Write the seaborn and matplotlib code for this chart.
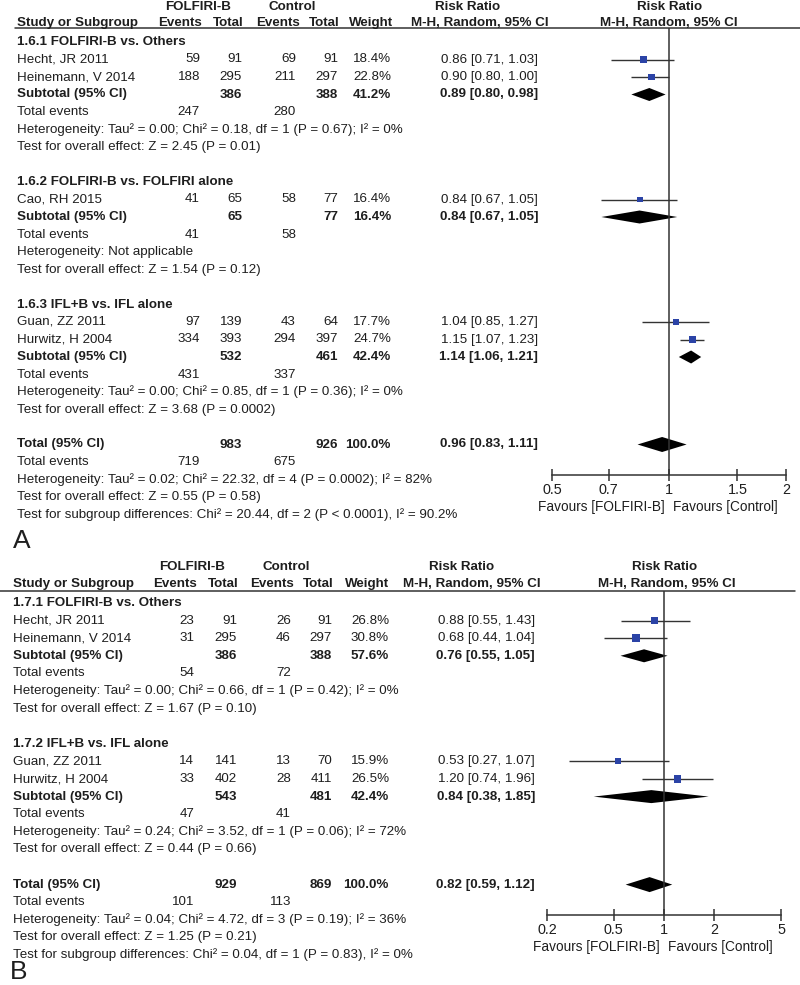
import matplotlib.pyplot as plt
import matplotlib.ticker as mticker
import seaborn as sns

# Estilo geral
sns.set_theme(style="white")
plt.rcParams['font.family'] = ['Liberation Sans', 'DejaVu Sans']

FS = 9.6
TXT = '#1e1e1e'
BLUE = '#2b43a6'

# ---------------- Painel A (1.6) ----------------
a_groups = ["1.6.1 FOLFIRI-B vs. Others", "1.6.2 FOLFIRI-B vs. FOLFIRI alone", "1.6.3 IFL+B vs. IFL alone"]
a_studies = ["Hecht, JR 2011", "Heinemann, V 2014", "Cao, RH 2015", "Guan, ZZ 2011", "Hurwitz, H 2004"]
a_study_group = [0, 0, 1, 2, 2]
a_exp_events = [59, 188, 41, 97, 334]
a_exp_total = [91, 295, 65, 139, 393]
a_ctl_events = [69, 211, 58, 43, 294]
a_ctl_total = [91, 297, 77, 64, 397]
a_weight = [18.4, 22.8, 16.4, 17.7, 24.7]
a_rr = [0.86, 0.90, 0.84, 1.04, 1.15]
a_lo = [0.71, 0.80, 0.67, 0.85, 1.07]
a_hi = [1.03, 1.00, 1.05, 1.27, 1.23]

a_sub_exp_total = [386, 65, 532]
a_sub_ctl_total = [388, 77, 461]
a_sub_weight = [41.2, 16.4, 42.4]
a_sub_rr = [0.89, 0.84, 1.14]
a_sub_lo = [0.80, 0.67, 1.06]
a_sub_hi = [0.98, 1.05, 1.21]
a_sub_exp_events = [247, 41, 431]
a_sub_ctl_events = [280, 58, 337]
a_sub_tau2 = [0.00, None, 0.00]
a_sub_chi2 = [0.18, None, 0.85]
a_sub_df = [1, None, 1]
a_sub_het_p = ["0.67", None, "0.36"]
a_sub_i2 = [0, None, 0]
a_sub_z = [2.45, 1.54, 3.68]
a_sub_z_p = ["0.01", "0.12", "0.0002"]

a_tot = dict(exp_total=983, ctl_total=926, weight=100.0, rr=0.96, lo=0.83, hi=1.11,
             exp_events=719, ctl_events=675, tau2=0.02, chi2=22.32, df=4, het_p="0.0002",
             i2=82, z=0.55, z_p="0.58", sg_chi2=20.44, sg_df=2, sg_p="< 0.0001", sg_i2="90.2")
a_ticks = [0.5, 0.7, 1, 1.5, 2]
a_tick_labels = ["0.5", "0.7", "1", "1.5", "2"]

# ---------------- Painel B (1.7) ----------------
b_groups = ["1.7.1 FOLFIRI-B vs. Others", "1.7.2 IFL+B vs. IFL alone"]
b_studies = ["Hecht, JR 2011", "Heinemann, V 2014", "Guan, ZZ 2011", "Hurwitz, H 2004"]
b_study_group = [0, 0, 1, 1]
b_exp_events = [23, 31, 14, 33]
b_exp_total = [91, 295, 141, 402]
b_ctl_events = [26, 46, 13, 28]
b_ctl_total = [91, 297, 70, 411]
b_weight = [26.8, 30.8, 15.9, 26.5]
b_rr = [0.88, 0.68, 0.53, 1.20]
b_lo = [0.55, 0.44, 0.27, 0.74]
b_hi = [1.43, 1.04, 1.07, 1.96]

b_sub_exp_total = [386, 543]
b_sub_ctl_total = [388, 481]
b_sub_weight = [57.6, 42.4]
b_sub_rr = [0.76, 0.84]
b_sub_lo = [0.55, 0.38]
b_sub_hi = [1.05, 1.85]
b_sub_exp_events = [54, 47]
b_sub_ctl_events = [72, 41]
b_sub_tau2 = [0.00, 0.24]
b_sub_chi2 = [0.66, 3.52]
b_sub_df = [1, 1]
b_sub_het_p = ["0.42", "0.06"]
b_sub_i2 = [0, 72]
b_sub_z = [1.67, 0.44]
b_sub_z_p = ["0.10", "0.66"]

b_tot = dict(exp_total=929, ctl_total=869, weight=100.0, rr=0.82, lo=0.59, hi=1.12,
             exp_events=101, ctl_events=113, tau2=0.04, chi2=4.72, df=3, het_p="0.19",
             i2=36, z=1.25, z_p="0.21", sg_chi2=0.04, sg_df=1, sg_p="= 0.83", sg_i2="0")
b_ticks = [0.2, 0.5, 1, 2, 5]
b_tick_labels = ["0.2", "0.5", "1", "2", "5"]


def rr_txt(rr, lo, hi):
    return f"{rr:.2f} [{lo:.2f}, {hi:.2f}]"


def het_txt(tau2, chi2, df, p, i2):
    if tau2 is None:
        return "Heterogeneity: Not applicable"
    return f"Heterogeneity: Tau\u00b2 = {tau2:.2f}; Chi\u00b2 = {chi2:.2f}, df = {df} (P = {p}); I\u00b2 = {i2}%"


def draw_panel(fig, tx, d, lay):
    """Desenha um painel completo (tabela + forest plot)."""
    cols = lay['cols']  # bordas direitas: ev exp, tot exp, ev ctl, tot ctl, peso
    lx = lay['left']

    def put(x, y, s, ha='left', bold=False):
        tx.text(x, y, s, ha=ha, va='center', fontsize=FS, color=TXT,
                fontweight='bold' if bold else 'normal')

    # Cabeçalho
    h1, h2 = lay['head_y']
    hc = lay['head_x']
    for key, label, yy in [('exp', 'FOLFIRI-B', h1), ('ctl', 'Control', h1),
                           ('rr1', 'Risk Ratio', h1), ('rr2', 'Risk Ratio', h1),
                           ('ev1', 'Events', h2), ('to1', 'Total', h2), ('ev2', 'Events', h2),
                           ('to2', 'Total', h2), ('w', 'Weight', h2),
                           ('mh1', 'M-H, Random, 95% CI', h2), ('mh2', 'M-H, Random, 95% CI', h2)]:
        put(hc[key], yy, label, ha='center', bold=True)
    put(lx, h2, 'Study or Subgroup', bold=True)
    tx.plot(lay['rule_x'], [lay['rule_y']] * 2, color='#333333', lw=1.1)

    # Eixo do forest plot
    x0, x1 = lay['forest_x']
    top, bot = lay['rule_y'], lay['axis_y']
    ax = fig.add_axes([x0 / 800, 1 - bot / 985, (x1 - x0) / 800, (bot - top) / 985])
    ax.patch.set_alpha(0)
    ax.set_xscale('log')
    ax.set_xlim(d['ticks'][0], d['ticks'][-1])
    ax.set_ylim(bot, top)
    ax.axvline(1, color='#333333', lw=1.1)

    step = lay['step']
    y = lay['first']
    sq_x, sq_y, sq_w = [], [], []

    def diamond(yy, est, lo, hi, h=6.5):
        ax.fill([lo, est, hi, est], [yy, yy - h, yy, yy + h], color='black', lw=0)

    for g, gname in enumerate(d['groups']):
        put(lx, y, gname, bold=True)
        y += step
        for i, sname in enumerate(d['studies']):
            if d['study_group'][i] != g:
                continue
            put(lx, y, sname)
            put(cols[0], y, str(d['exp_events'][i]), ha='right')
            put(cols[1], y, str(d['exp_total'][i]), ha='right')
            put(cols[2], y, str(d['ctl_events'][i]), ha='right')
            put(cols[3], y, str(d['ctl_total'][i]), ha='right')
            put(cols[4], y, f"{d['weight'][i]:.1f}%", ha='right')
            put(lay['rr_right'], y, rr_txt(d['rr'][i], d['lo'][i], d['hi'][i]), ha='right')
            ax.hlines(y, d['lo'][i], d['hi'][i], color='#333333', lw=1.0)
            sq_x.append(d['rr'][i])
            sq_y.append(y)
            sq_w.append(d['weight'][i])
            y += step
        # Subtotal
        put(lx, y, 'Subtotal (95% CI)', bold=True)
        put(cols[1], y, str(d['sub_exp_total'][g]), ha='right', bold=True)
        put(cols[3], y, str(d['sub_ctl_total'][g]), ha='right', bold=True)
        put(cols[4], y, f"{d['sub_weight'][g]:.1f}%", ha='right', bold=True)
        put(lay['rr_right'], y, rr_txt(d['sub_rr'][g], d['sub_lo'][g], d['sub_hi'][g]),
            ha='right', bold=True)
        diamond(y, d['sub_rr'][g], d['sub_lo'][g], d['sub_hi'][g])
        y += step
        put(lx, y, 'Total events')
        put(cols[0], y, str(d['sub_exp_events'][g]), ha='right')
        put(cols[2], y, str(d['sub_ctl_events'][g]), ha='right')
        y += step
        put(lx, y, het_txt(d['sub_tau2'][g], d['sub_chi2'][g], d['sub_df'][g],
                           d['sub_het_p'][g], d['sub_i2'][g]))
        y += step
        put(lx, y, f"Test for overall effect: Z = {d['sub_z'][g]:.2f} (P = {d['sub_z_p'][g]})")
        y += 2 * step

    # Total geral
    t = d['tot']
    put(lx, y, 'Total (95% CI)', bold=True)
    put(cols[1], y, str(t['exp_total']), ha='right', bold=True)
    put(cols[3], y, str(t['ctl_total']), ha='right', bold=True)
    put(cols[4], y, f"{t['weight']:.1f}%", ha='right', bold=True)
    put(lay['rr_right'], y, rr_txt(t['rr'], t['lo'], t['hi']), ha='right', bold=True)
    diamond(y, t['rr'], t['lo'], t['hi'], h=7.5)
    y += step
    put(lx, y, 'Total events')
    put(cols[0], y, str(t['exp_events']), ha='right')
    put(cols[2], y, str(t['ctl_events']), ha='right')
    y += step
    put(lx, y, het_txt(t['tau2'], t['chi2'], t['df'], t['het_p'], t['i2']))
    y += step
    put(lx, y, f"Test for overall effect: Z = {t['z']:.2f} (P = {t['z_p']})")
    y += step
    put(lx, y, f"Test for subgroup differences: Chi\u00b2 = {t['sg_chi2']:.2f}, df = {t['sg_df']} "
               f"(P {t['sg_p']}), I\u00b2 = {t['sg_i2']}%")

    # Quadrados (tamanho proporcional ao peso)
    sns.scatterplot(x=sq_x, y=sq_y, size=sq_w, sizes=(0, 110), size_norm=(0, 100),
                    marker='s', color=BLUE, linewidth=0, legend=False, ax=ax, zorder=3)

    # Eixo inferior
    for side in ['top', 'left', 'right']:
        ax.spines[side].set_visible(False)
    ax.spines['bottom'].set_color('#333333')
    ax.spines['bottom'].set_linewidth(1.1)
    ax.set_yticks([])
    ax.set_xticks(d['ticks'])
    ax.set_xticklabels(d['tick_labels'])
    ax.xaxis.set_minor_locator(mticker.NullLocator())
    ax.tick_params(axis='x', direction='inout', length=8, width=1.1, color='#333333',
                   labelsize=FS + 0.8, labelcolor=TXT, pad=2, bottom=True)
    ax.set_xlabel('')
    ax.set_ylabel('')
    ax.annotate('Favours [FOLFIRI-B]', xy=(1, 0), xycoords=('data', 'axes fraction'),
                xytext=(-3, -23), textcoords='offset points', ha='right', va='center',
                fontsize=FS + 0.2, color=TXT)
    ax.annotate('Favours [Control]', xy=(1, 0), xycoords=('data', 'axes fraction'),
                xytext=(3, -23), textcoords='offset points', ha='left', va='center',
                fontsize=FS + 0.2, color=TXT)

    tx.text(lay['tag'][0], lay['tag'][1], lay['tag'][2], ha='left', va='center',
            fontsize=19, color=TXT)


def panel_data(prefix):
    g = globals()
    keys = ['groups', 'studies', 'study_group', 'exp_events', 'exp_total', 'ctl_events',
            'ctl_total', 'weight', 'rr', 'lo', 'hi', 'sub_exp_total', 'sub_ctl_total',
            'sub_weight', 'sub_rr', 'sub_lo', 'sub_hi', 'sub_exp_events', 'sub_ctl_events',
            'sub_tau2', 'sub_chi2', 'sub_df', 'sub_het_p', 'sub_i2', 'sub_z', 'sub_z_p',
            'tot', 'ticks', 'tick_labels']
    return {k: g[f'{prefix}_{k}'] for k in keys}


layout_a = dict(
    head_y=(7, 23), rule_y=28, rule_x=(15, 800), left=17, first=42, step=17.5,
    head_x=dict(exp=198, ctl=292, ev1=180, to1=228, ev2=278, to2=324, w=371,
                rr1=468, mh1=480, rr2=670, mh2=669),
    cols=[200, 242, 296, 338, 391], rr_right=538,
    forest_x=(552, 786), axis_y=475, tag=(13, 541, 'A'))

layout_b = dict(
    head_y=(567, 584), rule_y=591, rule_x=(0, 795), left=13, first=603, step=17.6,
    head_x=dict(exp=192, ctl=286, ev1=175, to1=223, ev2=272, to2=318, w=367,
                rr1=462, mh1=472, rr2=665, mh2=667),
    cols=[194, 237, 291, 332, 389], rr_right=535,
    forest_x=(547, 781), axis_y=915, tag=(10, 972, 'B'))

fig = plt.figure(figsize=(8, 9.85), dpi=100)
tx = fig.add_axes([0, 0, 1, 1])
tx.set_xlim(0, 800)
tx.set_ylim(985, 0)
tx.axis('off')

draw_panel(fig, tx, panel_data('a'), layout_a)
draw_panel(fig, tx, panel_data('b'), layout_b)

fig.savefig('out.png', dpi=100)
plt.close(fig)
